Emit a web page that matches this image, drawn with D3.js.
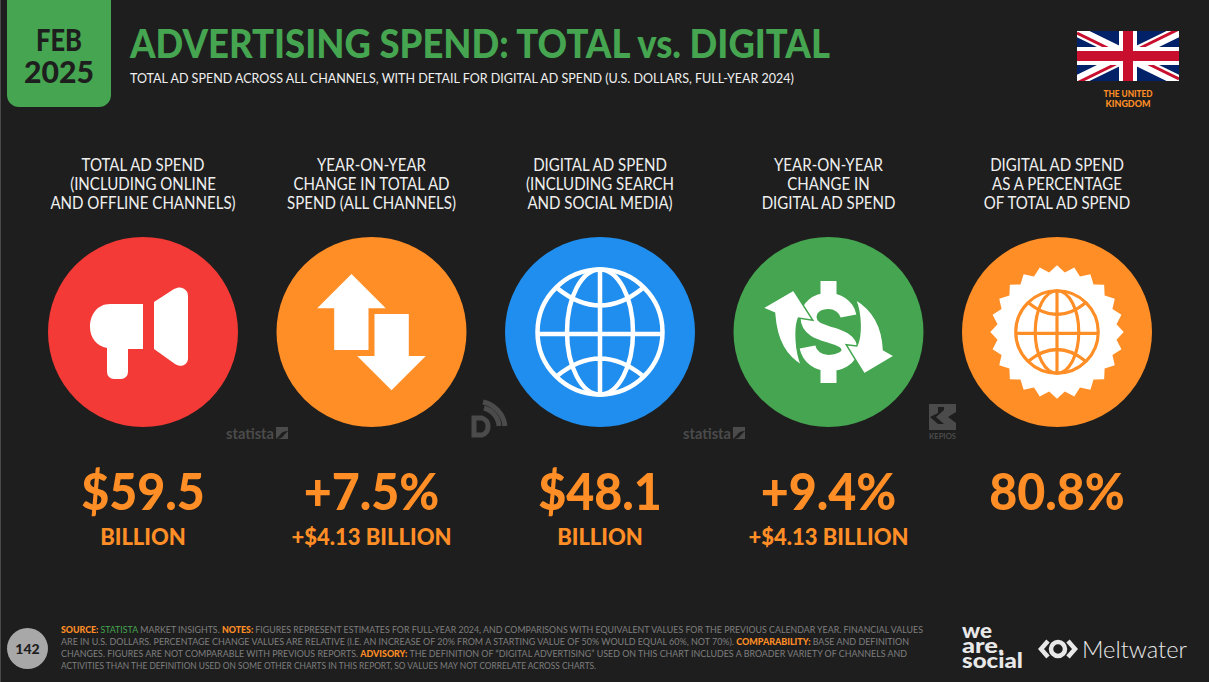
<!DOCTYPE html>
<html>
<head>
<meta charset="utf-8">
<style>
  html, body { margin: 0; padding: 0; background: #1e1e1e; overflow: hidden; }
  text { font-family: Lato, sans-serif; }
</style>
</head>
<body>
<svg width="1209" height="682"></svg>
<script src="https://cdn.jsdelivr.net/npm/d3@7"></script>
<script>
const categories = ['total', 'totalChange', 'digital', 'digitalChange', 'share'];
const headings = [
  ['TOTAL AD SPEND', '(INCLUDING ONLINE', 'AND OFFLINE CHANNELS)'],
  ['YEAR-ON-YEAR', 'CHANGE IN TOTAL AD', 'SPEND (ALL CHANNELS)'],
  ['DIGITAL AD SPEND', '(INCLUDING SEARCH', 'AND SOCIAL MEDIA)'],
  ['YEAR-ON-YEAR', 'CHANGE IN', 'DIGITAL AD SPEND'],
  ['DIGITAL AD SPEND', 'AS A PERCENTAGE', 'OF TOTAL AD SPEND']
];
const bigValues = ['$59.5', '+7.5%', '$48.1', '+9.4%', '80.8%'];
const subValues = ['BILLION', '+$4.13 BILLION', 'BILLION', '+$4.13 BILLION', ''];
const circleColors = ['#f33a36', '#ff8e26', '#208eee', '#45a550', '#ff8e26'];

const footer = [
  [['SOURCE: ', 'o'], ['STATISTA', 'g'], [' MARKET INSIGHTS. ', 'n'], ['NOTES: ', 'o'], ['FIGURES REPRESENT ESTIMATES FOR FULL-YEAR 2024, AND COMPARISONS WITH EQUIVALENT VALUES FOR THE PREVIOUS CALENDAR YEAR. FINANCIAL VALUES', 'n']],
  [['ARE IN U.S. DOLLARS. PERCENTAGE CHANGE VALUES ARE RELATIVE (I.E. AN INCREASE OF 20% FROM A STARTING VALUE OF 50% WOULD EQUAL 60%, NOT 70%). ', 'n'], ['COMPARABILITY: ', 'o'], ['BASE AND DEFINITION', 'n']],
  [['CHANGES. FIGURES ARE NOT COMPARABLE WITH PREVIOUS REPORTS. ', 'n'], ['ADVISORY: ', 'o'], ['THE DEFINITION OF “DIGITAL ADVERTISING” USED ON THIS CHART INCLUDES A BROADER VARIETY OF CHANNELS AND', 'n']],
  [['ACTIVITIES THAN THE DEFINITION USED ON SOME OTHER CHARTS IN THIS REPORT, SO VALUES MAY NOT CORRELATE ACROSS CHARTS.', 'n']]
];
const footerWidths = [862, 849, 847, 536];

const orange = '#ff8e26', green = '#45a550', bg = '#1e1e1e', mark = '#4b4b4b';

const svg = d3.select('svg');
const x = d3.scalePoint().domain(categories).range([143, 1057]);

svg.append('rect').attr('width', 1209).attr('height', 682).attr('fill', bg);
svg.append('rect').attr('width', 1).attr('height', 682).attr('fill', '#4a4a4a');

// squeeze a text to a width, horizontally only
function put(parent, str, px, py, size, weight, fill, width, anchor) {
  let t = parent.append('text')
    .attr('font-size', size).attr('font-weight', weight).attr('fill', fill)
    .attr('text-anchor', anchor || 'start').text(str);
  let k = width ? width / t.node().getComputedTextLength() : 1;
  t.attr('transform', `translate(${px},${py}) scale(${k},1)`);
  return t;
}

// icons are hand traced around the circle centre
function globe(g, color, s, sw) {
  const e = g.append('g').attr('fill', 'none').attr('stroke', color).attr('stroke-width', sw)
    .attr('transform', `scale(${s})`);
  e.append('circle').attr('r', 62.5);
  e.append('ellipse').attr('rx', 33).attr('ry', 62.5);
  e.append('path').attr('d', 'M0,-62V62M-62,2H62M-43,-44Q0,-9 43,-44M-43,44Q0,9 43,44');
}

const icons = {
  total(g) {
    g.append('path').attr('fill', '#fff')
      .attr('d', 'M0,-28H-33C-46,-28 -53,-17 -53,-5C-53,6 -46,14 -36,16V40a7,7 0 0 0 7,7H-22a7,7 0 0 0 7,-7V17H0Z');
    g.append('path').attr('fill', '#fff')
      .attr('d', 'M11,-30L31,-43C38,-47 45,-43 45,-36V26C45,33 38,36 32,32L11,17Z');
  },
  totalChange(g) {
    g.append('path').attr('fill', '#fff')
      .attr('d', 'M-20,-58L14.3,-23.7H-3V18H-37.3V-23.7H-54.3Z');
    g.append('path').attr('fill', '#fff')
      .attr('d', 'M3,-18H37.3V24H54.3L20,58.3L-14.3,24H3Z');
  },
  digital(g) {
    globe(g, '#fff', 1, 4.5);
  },
  digitalChange(g) {
    g.append('path').attr('fill', '#fff').attr('d', 'M-8,-51H8V-36H-8ZM-8,38H8V51H-8Z');
    g.append('path').attr('fill', 'none').attr('stroke', '#fff').attr('stroke-width', 16)
      .attr('d', 'M20,-16C18,-26 8,-31 0,-31C-12,-31 -20,-24 -20,-15C-20,-3 -8,0 2,3C12,6 21,9 21,18C21,26 11,31 0,31C-10,31 -19,25 -21,15');
    g.append('path').attr('fill', '#fff').attr('stroke', green).attr('stroke-width', 1.5)
      .attr('d', 'M-66,-24L-35,-42L-15.7,-11.7L-30,-14C-34,-4 -33,20 -26.7,33.7C-42,24 -52,10 -54,-19Z');
    g.append('path').attr('fill', '#fff').attr('stroke', green).attr('stroke-width', 1.5)
      .attr('d', 'M66,24L35.7,42L17.7,12.7L28.3,14C33,4 33,-18 26.7,-33C42,-24 54,-8 55,17.7Z');
  },
  share(g) {
    const star = d3.lineRadial().curve(d3.curveLinearClosed);
    const pts = d3.range(48).map(i => [i * Math.PI / 24, i % 2 ? 60 : 66.7]);
    g.append('path').attr('fill', '#fff').attr('d', star(pts));
    globe(g, orange, 0.66, 4.8);
  }
};

// date tab and title
svg.append('path').attr('fill', green)
  .attr('d', 'M7,0H111V95a12,12 0 0 1 -12,12H19a12,12 0 0 1 -12,-12Z');
put(svg, 'FEB', 59, 51, 30, 900, bg, 46, 'middle');
put(svg, '2025', 59, 83, 30, 900, bg, 70, 'middle');
put(svg, 'ADVERTISING SPEND: TOTAL vs. DIGITAL', 130, 58, 39, 900, green, 700);
put(svg, 'TOTAL AD SPEND ACROSS ALL CHANNELS, WITH DETAIL FOR DIGITAL AD SPEND (U.S. DOLLARS, FULL-YEAR 2024)', 130, 83, 14, 400, '#f0f0f0', 665);

// flag
const flag = svg.append('g').attr('transform', 'translate(1077,31)');
flag.append('clipPath').attr('id', 'flagClip').append('rect').attr('width', 102).attr('height', 50);
const fg = flag.append('g').attr('clip-path', 'url(#flagClip)');
fg.append('rect').attr('width', 102).attr('height', 50).attr('fill', '#012169');
fg.append('path').attr('d', 'M0,0L102,50M102,0L0,50').attr('stroke', '#fff').attr('stroke-width', 11);
fg.append('path').attr('stroke', '#c8102e').attr('stroke-width', 3)
  .attr('d', 'M0,2L51,27M102,-2L51,23M102,48L51,23M0,52L51,27');
fg.append('path').attr('d', 'M51,0V50M0,25H102').attr('stroke', '#fff').attr('stroke-width', 18);
fg.append('path').attr('d', 'M51,0V50M0,25H102').attr('stroke', '#c8102e').attr('stroke-width', 10);
put(svg, 'THE UNITED', 1128, 97, 9, 900, orange, 49, 'middle');
put(svg, 'KINGDOM', 1128, 107, 9, 900, orange, 45, 'middle');

// columns
const col = svg.selectAll('g.col').data(categories).join('g')
  .attr('class', 'col')
  .attr('transform', d => `translate(${x(d)},0)`);

col.each(function (d, i) {
  const g = d3.select(this);
  headings[i].forEach((line, j) => {
    const t = put(g, line, 0, 171 + j * 19, 17, 400, '#f0f0f0', 0, 'middle');
    t.attr('transform', `translate(0,${171 + j * 19}) scale(0.885,1)`);
  });
  g.append('circle').attr('cy', 332).attr('r', 95).attr('fill', circleColors[i]);
  const icon = g.append('g').attr('transform', 'translate(0,332)');
  icons[d](icon);
  const big = put(g, bigValues[i], 0, 510, 52, 900, orange, 0, 'middle');
  big.attr('transform', `translate(0,510) scale(0.93,1)`);
  if (subValues[i]) put(g, subValues[i], 0, 545, 22, 900, orange, 0, 'middle');
});

// watermarks
function statista(px) {
  put(svg, 'statista', px, 439, 16, 700, mark, 48);
  svg.append('path').attr('fill', mark)
    .attr('d', `M${px + 50},427h12v4q-6,0 -8,4l-4,4zM${px + 62},431v8h-12q6,0 8,-4z`);
}
statista(226);
statista(683);
svg.append('g').attr('fill', 'none').attr('stroke', mark).attr('stroke-width', 5)
  .call(s => s.append('path').attr('d', 'M474,418H482A9,9 0 0 1 482,435H474Z'))
  .call(s => s.append('path').attr('d', 'M484,408A20,20 0 0 1 499,426'))
  .call(s => s.append('path').attr('d', 'M483,402A28,28 0 0 1 505,426'));
svg.append('path').attr('fill', mark)
  .attr('d', 'M929,404H956V412L948,417L956,423V430H929ZM938,407V413L930,417L938,424H944L936,417L944,410V407Z');
put(svg, 'KEPIOS', 942.5, 439, 8, 700, mark, 27, 'middle');

// footer
svg.append('circle').attr('cx', 27.5).attr('cy', 648.5).attr('r', 20.5).attr('fill', '#a8a8a8');
put(svg, '142', 27.5, 653.5, 14, 900, bg, 0, 'middle');
const footerColor = { o: orange, n: '#7f7f7f', g: green };
footer.forEach((line, i) => {
  const t = svg.append('text').attr('font-size', 9.5);
  line.forEach(p => {
    t.append('tspan').text(p[0]).attr('fill', footerColor[p[1]])
      .attr('font-weight', p[1] === 'o' ? 900 : 400);
  });
  const k = footerWidths[i] / t.node().getComputedTextLength();
  t.attr('transform', `translate(61,${633 + i * 12}) scale(${k},1)`);
});

// logos
put(svg, 'we', 962, 638, 20, 900, '#e8e8e8', 30);
put(svg, 'are.', 962, 653, 20, 900, '#e8e8e8', 42);
put(svg, 'social', 962, 668, 20, 900, '#e8e8e8', 61);
svg.append('circle').attr('cx', 1058).attr('cy', 649).attr('r', 7).attr('fill', 'none')
  .attr('stroke', '#e8e8e8').attr('stroke-width', 4.5);
svg.append('path').attr('fill', 'none').attr('stroke', '#e8e8e8').attr('stroke-width', 4.5)
  .attr('d', 'M1048,641L1041,649L1048,657M1068,641L1075,649L1068,657');
put(svg, 'Meltwater', 1082, 658, 24, 300, '#e8e8e8', 105);
</script>
</body>
</html>
